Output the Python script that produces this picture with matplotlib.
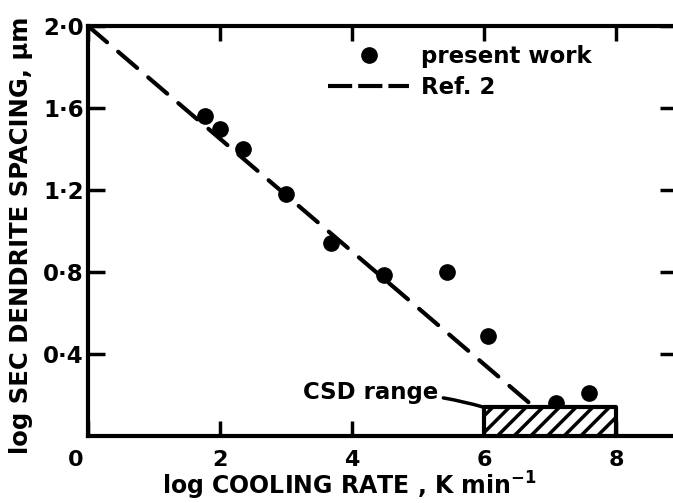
import matplotlib
matplotlib.use("Agg")
import matplotlib.pyplot as plt
import matplotlib.transforms as mtransforms
from matplotlib.patches import Rectangle
from matplotlib.lines import Line2D

# =========================
# DATA
# =========================
cooling_rate = [1.77, 2.0, 2.35, 3.0, 3.68, 4.48, 5.44, 6.06, 7.09, 7.59]
spacing = [1.56, 1.50, 1.40, 1.18, 0.94, 0.785, 0.80, 0.49, 0.16, 0.21]

ref2_x = [0.0, 6.8]
ref2_y = [2.0, 0.13]

csd_range = (6.0, 8.0)
csd_height = 0.14

xticks = [0, 2, 4, 6, 8]
xtick_labels = ["0", "2", "4", "6", "8"]
yticks = [0.4, 0.8, 1.2, 1.6, 2.0]
ytick_labels = ["0\u00b74", "0\u00b78", "1\u00b72", "1\u00b76", "2\u00b70"]

# =========================
# STYLE
# =========================
plt.rcParams["font.family"] = ["DejaVu Sans"]
plt.rcParams["font.weight"] = "bold"
plt.rcParams["hatch.linewidth"] = 2.5
plt.rcParams["hatch.color"] = "black"

fig = plt.figure(figsize=(6.73, 5.03), dpi=100)
ax = fig.add_axes([0.1308, 0.1332, 0.8826, 0.8151])

ax.set_xlim(0, 9)
ax.set_ylim(0, 2.0)

for side in ["left", "bottom", "top"]:
    ax.spines[side].set_linewidth(3)
ax.spines["right"].set_visible(False)

# =========================
# PLOT
# =========================
ax.plot(ref2_x, ref2_y, color="black", lw=3, dashes=(6, 3.5),
        dash_capstyle="round")
ax.plot(cooling_rate, spacing, "o", color="black", ms=11)

csd = Rectangle((csd_range[0], 0), csd_range[1] - csd_range[0], csd_height,
                facecolor="white", edgecolor="black", lw=3, hatch="//",
                joinstyle="round", zorder=3)
ax.add_patch(csd)

ax.annotate("CSD range", xy=(csd_range[0], csd_height), xytext=(5.3, 0.21),
            ha="right", va="center", fontsize=16.5, fontweight="bold",
            arrowprops=dict(arrowstyle="-", lw=2.5, color="black",
                            shrinkA=2, shrinkB=0,
                            connectionstyle="arc3,rad=-0.08"))

# =========================
# TICKS
# =========================
ax.set_xticks(xticks)
ax.set_xticklabels(xtick_labels)
ax.set_yticks(yticks)
ax.set_yticklabels(ytick_labels)
ax.tick_params(axis="x", direction="in", length=11, width=2.5, top=True,
               pad=10, labelsize=16)
ax.tick_params(axis="y", direction="in", length=12, width=2.5, right=True,
               pad=3, labelsize=16.5)
for t in ax.yaxis.get_major_ticks():
    t.tick2line.set_markersize(16)

# the origin label sits left of the axis corner
zero_lbl = ax.get_xticklabels()[0]
zero_lbl.set_transform(zero_lbl.get_transform()
                       + mtransforms.ScaledTranslation(-0.12, 0, fig.dpi_scale_trans))

ax.set_xlabel("log COOLING RATE , K min$^{\\mathbf{-1}}$", fontsize=17,
              fontweight="bold")
ax.xaxis.set_label_coords(0.44, -0.083)
ax.set_ylabel("log SEC DENDRITE SPACING, \u03bcm", fontsize=17.5,
              fontweight="bold")
ax.yaxis.set_label_coords(-0.093, 0.49)

# =========================
# LEGEND
# =========================
handles = [
    Line2D([], [], ls="none", marker="o", color="black", ms=11),
    Line2D([], [], color="black", lw=3, dashes=(5.8, 1.45)),
]
ax.legend(handles, ["present work", "Ref. 2"], loc="upper left",
          bbox_to_anchor=(0.37, 1.005), frameon=False,
          handlelength=3.5, handletextpad=0.52, labelspacing=0.37,
          prop={"weight": "bold", "size": 16.5})

fig.savefig("out.png", dpi=100)
